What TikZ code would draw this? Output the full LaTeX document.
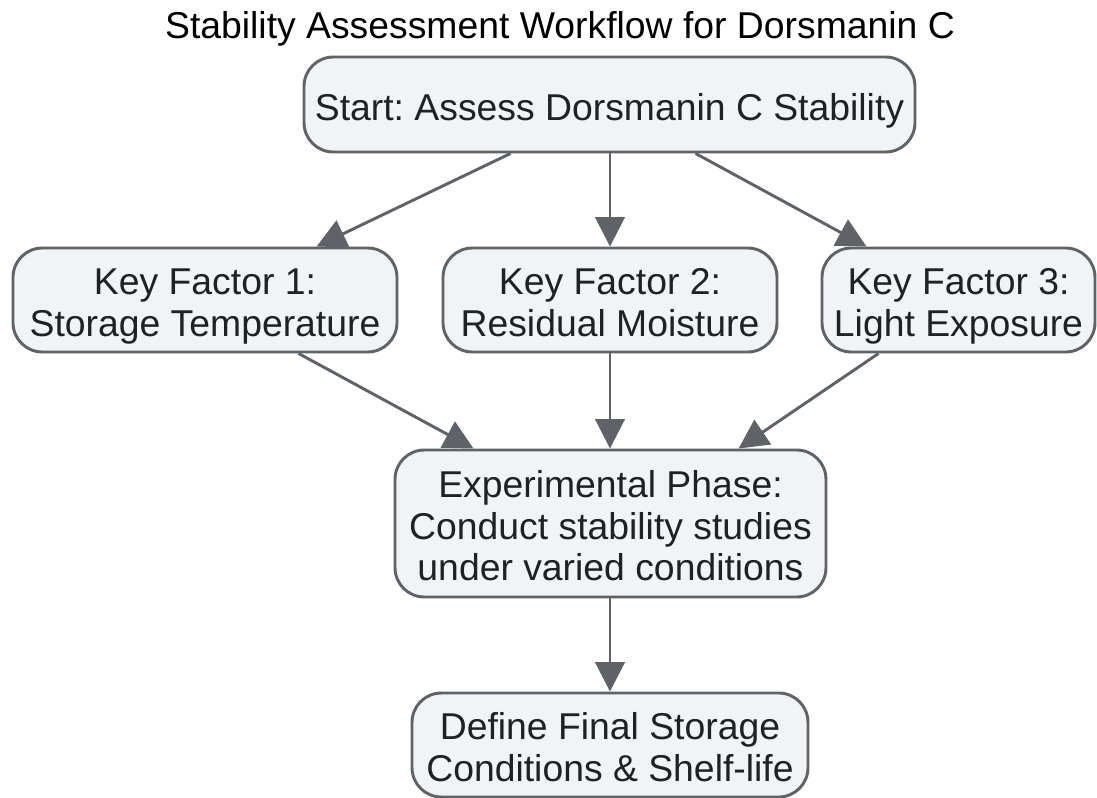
\documentclass[tikz,border=0pt]{standalone}
\usepackage{fontspec}
\setmainfont{Liberation Sans}
\frenchspacing
\usetikzlibrary{arrows.meta,calc}
\definecolor{boxfill}{HTML}{F1F3F4}
\definecolor{boxline}{HTML}{5F6368}
\definecolor{boxtext}{HTML}{202124}
\newcommand{\firstln}{\rule{0pt}{30pt}}
\newcommand{\lastln}{\rule[-6.5pt]{0pt}{6.5pt}}
\begin{document}
\begin{tikzpicture}[x=0.75pt,y=-0.75pt,
  box/.style={draw=boxline,fill=boxfill,line width=2.2pt,rounded corners=22pt,
    text=boxtext,align=center,inner sep=0pt,
    font=\fontsize{28}{31.1}\selectfont},
  arr/.style={draw=boxline,line width=2.2pt,
    -{Triangle[length=22pt,width=22pt]}}]
\useasboundingbox (0,0) rectangle (1097,797);
\node[font=\fontsize{28}{31}\selectfont,text=black,anchor=base,inner sep=0pt] (title) at (560,38) {Stability Assessment Workflow for Dorsmanin C};
\node[box,minimum width=611*0.75pt,minimum height=95*0.75pt] (start) at (609.5,104.5) {\firstln\lastln Start: Assess Dorsmanin C Stability};
\node[box,minimum width=384*0.75pt,minimum height=104*0.75pt] (kf1) at (205,300) {\firstln Key Factor 1:\\\lastln Storage Temperature};
\node[box,minimum width=334*0.75pt,minimum height=104*0.75pt] (kf2) at (610,300) {\firstln Key Factor 2:\\\lastln Residual Moisture};
\node[box,minimum width=273*0.75pt,minimum height=104*0.75pt] (kf3) at (958.5,300) {\firstln Key Factor 3:\\\lastln Light Exposure};
\node[box,minimum width=431*0.75pt,minimum height=147*0.75pt] (exp) at (610.5,523.5) {\firstln Experimental Phase:\\Conduct stability studies\\\lastln under varied conditions};
\node[box,minimum width=396*0.75pt,minimum height=104*0.75pt] (def) at (610,745) {\firstln Define Final Storage\\\lastln Conditions \& Shelf-life};
\draw[arr] ($(start.south west)+(208,0)$) -- ($(kf1.north west)+(305,0)$);
\draw[arr] (start.south -| kf2.north) -- (kf2.north);
\draw[arr] ($(start.south west)+(393,0)$) -- ($(kf3.north west)+(46,0)$);
\draw[arr] ($(kf1.south west)+(287,0)$) -- ($(exp.north west)+(80,0)$);
\draw[arr] (kf2.south) -- (kf2.south |- exp.north);
\draw[arr] ($(kf3.south west)+(58,0)$) -- ($(exp.north west)+(345,0)$);
\draw[arr] (exp.south -| def.north) -- (def.north);
\end{tikzpicture}
\end{document}
